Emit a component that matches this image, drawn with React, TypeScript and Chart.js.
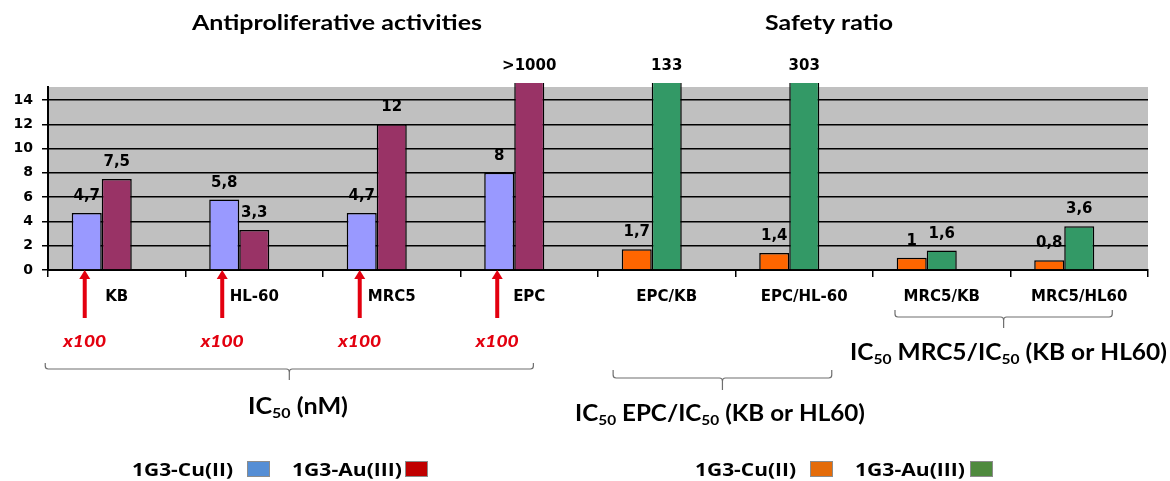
import React, { useEffect, useRef } from "react";
import { Chart, registerables } from "chart.js";

Chart.register(...registerables);

// ---------- data ----------
const categories = ["KB", "HL-60", "MRC5", "EPC", "EPC/KB", "EPC/HL-60", "MRC5/KB", "MRC5/HL60"];
const cuValues = [4.7, 5.8, 4.7, 8, 1.7, 1.4, 1, 0.8];
const auValues = [7.5, 3.3, 12, 1000, 133, 303, 1.6, 3.6];
const yTicks = [0, 2, 4, 6, 8, 10, 12, 14];
const groupOf = [0, 0, 0, 0, 1, 1, 1, 1]; // 0 = antiproliferative, 1 = safety ratio
const multipliedIdx = [0, 1, 2, 3]; // Cu bars shown x100
const seriesLabels = ["1G3-Cu(II)", "1G3-Au(III)"];

// ---------- styles ----------
const cuBarColors = ["#9999FF", "#FF6600"];
const auBarColors = ["#993366", "#339966"];
const legendCuColors = ["#558ED5", "#E46C0A"];
const legendAuColors = ["#C00000", "#4F8A3E"];
const RED = "#E3000F";
const TICK_FONT = "DejaVu Sans";
const TITLE_FONT = "Lato";

type Seg = { t: string; sub?: boolean };

function drawRich(
  ctx: CanvasRenderingContext2D,
  segs: Seg[],
  x: number,
  baseline: number,
  size: number,
  opts: { family?: string; italic?: boolean; align?: "left" | "center"; fit?: number; color?: string; weight?: string } = {}
) {
  const family = opts.family || TITLE_FONT;
  const weight = opts.weight || "bold";
  const fontFor = (s: Seg) =>
    `${opts.italic ? "italic " : ""}${weight} ${s.sub ? Math.round(size * 0.62) : size}px "${family}"`;
  let total = 0;
  const widths = segs.map((s) => {
    ctx.font = fontFor(s);
    const w = ctx.measureText(s.t).width;
    total += w;
    return w;
  });
  const sx = opts.fit ? opts.fit / total : 1;
  const start = opts.align === "center" ? x - (total * sx) / 2 : x;
  ctx.save();
  ctx.translate(start, baseline);
  ctx.scale(sx, 1);
  ctx.fillStyle = opts.color || "#000";
  ctx.textBaseline = "alphabetic";
  ctx.textAlign = "left";
  let cx = 0;
  segs.forEach((s, i) => {
    ctx.font = fontFor(s);
    ctx.fillText(s.t, cx, s.sub ? size * 0.2 : 0);
    cx += widths[i];
  });
  ctx.restore();
}

function drawBrace(ctx: CanvasRenderingContext2D, left: number, right: number, top: number, mid: number, bottom: number) {
  const c = (left + right) / 2;
  const r = 3;
  ctx.save();
  ctx.strokeStyle = "#6E6E6E";
  ctx.lineWidth = 1.2;
  ctx.beginPath();
  ctx.moveTo(left, top);
  ctx.lineTo(left, mid - r);
  ctx.quadraticCurveTo(left, mid, left + r, mid);
  ctx.lineTo(c - r, mid);
  ctx.quadraticCurveTo(c, mid, c, mid + r);
  ctx.lineTo(c, bottom);
  ctx.moveTo(c, mid + r);
  ctx.quadraticCurveTo(c, mid, c + r, mid);
  ctx.lineTo(right - r, mid);
  ctx.quadraticCurveTo(right, mid, right, mid - r);
  ctx.lineTo(right, top);
  ctx.stroke();
  ctx.restore();
}

const fmt = (v: number) => (v >= 1000 ? ">" + v : String(v).replace(".", ","));

const decorPlugin = {
  id: "decor",
  beforeDraw(chart: any) {
    const { ctx, chartArea: a } = chart;
    ctx.save();
    ctx.fillStyle = "#FFFFFF";
    ctx.fillRect(0, 0, chart.width, chart.height);
    ctx.fillStyle = "#C0C0C0";
    ctx.fillRect(a.left, a.top, a.right - a.left, a.bottom - a.top);
    ctx.restore();
  },
  afterDraw(chart: any) {
    const { ctx, chartArea: a } = chart;
    const xs = chart.scales.x;

    // titles
    drawRich(ctx, [{ t: "Antiproliferative activities" }], 192, 30, 21, { fit: 290 });
    drawRich(ctx, [{ t: "Safety ratio" }], 765, 30, 21, { fit: 128 });

    // value labels
    [cuValues, auValues].forEach((vals, di) => {
      const meta = chart.getDatasetMeta(di);
      vals.forEach((v, j) => {
        const el = meta.data[j];
        const top = Math.max(el.y, a.top - 4);
        ctx.save();
        ctx.font = `bold 15px "${TICK_FONT}"`;
        ctx.fillStyle = "#000";
        ctx.textAlign = "center";
        ctx.textBaseline = "alphabetic";
        ctx.fillText(fmt(v), el.x, top - 13);
        ctx.restore();
      });
    });

    // red arrows + x100
    const cuMeta = chart.getDatasetMeta(0);
    multipliedIdx.forEach((j) => {
      const x = cuMeta.data[j].x - 2;
      const tip = a.bottom;
      ctx.save();
      ctx.fillStyle = RED;
      ctx.fillRect(x - 2, tip + 8, 4, 40);
      ctx.beginPath();
      ctx.moveTo(x, tip);
      ctx.lineTo(x - 5.5, tip + 9);
      ctx.lineTo(x + 5.5, tip + 9);
      ctx.closePath();
      ctx.fill();
      ctx.restore();
      drawRich(ctx, [{ t: "x100" }], x, 347, 17, { italic: true, align: "center", fit: 43, color: RED, weight: "900" });
    });

    // braces (positions in category units)
    const px = (v: number) => xs.getPixelForValue(v);
    drawBrace(ctx, px(-0.52), px(3.03), 363, 369, 380);
    drawBrace(ctx, px(3.61), px(5.2), 370, 378, 390);
    drawBrace(ctx, px(5.66), px(7.24), 310, 317, 328);

    // IC50 captions
    drawRich(ctx, [{ t: "IC" }, { t: "50", sub: true }, { t: " (nM)" }], 298, 414, 22, { align: "center", fit: 100 });
    drawRich(
      ctx,
      [{ t: "IC" }, { t: "50", sub: true }, { t: " EPC/IC" }, { t: "50", sub: true }, { t: " (KB or HL60)" }],
      575,
      421,
      22,
      { fit: 290 }
    );
    drawRich(
      ctx,
      [{ t: "IC" }, { t: "50", sub: true }, { t: " MRC5/IC" }, { t: "50", sub: true }, { t: " (KB or HL60)" }],
      850,
      360,
      22,
      { fit: 317 }
    );

    // legends
    const legends = [
      { x: [132, 247, 292, 405], g: 0 },
      { x: [695, 810, 855, 970], g: 1 },
    ];
    legends.forEach((L) => {
      const cols = [legendCuColors[L.g], legendAuColors[L.g]];
      [0, 1].forEach((k) => {
        drawRich(ctx, [{ t: seriesLabels[k] }], L.x[k * 2], 476, 18, {
          family: "Open Sans",
          fit: k === 0 ? 101 : 110,
        });
        ctx.save();
        ctx.fillStyle = cols[k];
        ctx.strokeStyle = "#8C8C8C";
        ctx.lineWidth = 1;
        ctx.fillRect(L.x[k * 2 + 1], 461, 23, 16);
        ctx.strokeRect(L.x[k * 2 + 1] + 0.5, 461.5, 22, 15);
        ctx.restore();
      });
    });
  },
};

export default function App() {
  const ref = useRef<HTMLCanvasElement | null>(null);
  useEffect(() => {
    document.body.style.margin = "0";
    if (!ref.current) return;
    const clip = { left: 0, top: 4, right: 0, bottom: 0 };
    const chart = new Chart(ref.current, {
      type: "bar",
      data: {
        labels: categories,
        datasets: [
          {
            label: seriesLabels[0],
            data: cuValues,
            backgroundColor: groupOf.map((g) => cuBarColors[g]),
            borderColor: "#000",
            borderWidth: 1.5,
            clip,
          },
          {
            label: seriesLabels[1],
            data: auValues,
            backgroundColor: groupOf.map((g) => auBarColors[g]),
            borderColor: "#000",
            borderWidth: 1.5,
            clip,
          },
          { label: "", data: categories.map(() => null) },
        ],
      } as any,
      options: {
        responsive: false,
        animation: false,
        events: [],
        layout: { padding: { top: 87, right: 22, left: 0, bottom: 0 } },
        datasets: { bar: { categoryPercentage: 0.655, barPercentage: 1 } },
        plugins: { legend: { display: false }, tooltip: { enabled: false }, title: { display: false } },
        scales: {
          x: {
            grid: { display: true, drawOnChartArea: false, drawTicks: true, tickLength: 7, color: "#000", lineWidth: 1.5, offset: true },
            border: { display: true, color: "#000", width: 2 },
            ticks: { font: { family: TICK_FONT, weight: "bold", size: 15 }, color: "#000", padding: 11, maxRotation: 0, autoSkip: false },
            afterFit: (s: any) => {
              s.height = 211;
            },
          },
          y: {
            min: 0,
            max: 15.07,
            afterBuildTicks: (s: any) => {
              s.ticks = yTicks.map((v) => ({ value: v }));
            },
            ticks: { font: { family: TICK_FONT, weight: "bold", size: 14 }, color: "#000", padding: 9 },
            grid: { color: "#000", lineWidth: 1.5, tickLength: 6, drawTicks: true },
            border: { display: true, color: "#000", width: 2 },
            afterFit: (s: any) => {
              s.width = 48;
            },
          },
        },
      } as any,
      plugins: [decorPlugin],
    });
    return () => chart.destroy();
  }, []);
  return <canvas ref={ref} width={1170} height={481} style={{ display: "block" }} />;
}
